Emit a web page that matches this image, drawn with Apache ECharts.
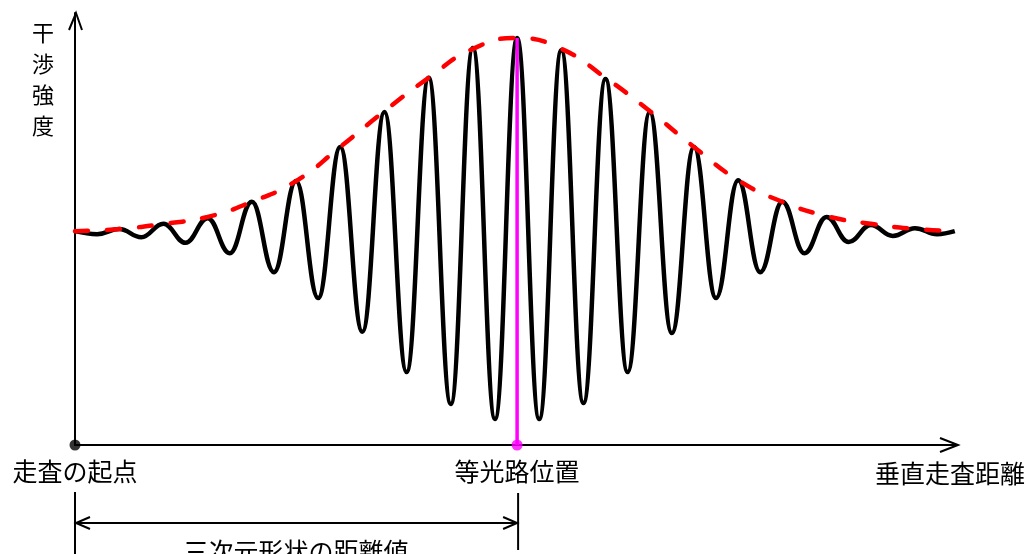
<!DOCTYPE html>
<html>
<head>
<meta charset="utf-8">
<script src="https://cdn.jsdelivr.net/npm/echarts@6/dist/echarts.min.js"></script>
<style>
html,body{margin:0;padding:0;background:#fff;}
#chart{width:1027px;height:554px;}
</style>
</head>
<body>
<div id="chart"></div>
<script>
// Scan positions (arbitrary units, one fringe period = 1) and read values
const fringeX = [0,0.5,1,1.5,2,2.5,3,3.5,4,4.5,5,5.5,6,6.5,7,7.5,8,8.5,9,9.5,10,
                 10.5,11,11.5,12,12.5,13,13.5,14,14.5,15,15.5,16,16.5,17,17.5,18,18.5,19,19.5,19.9];
const fringeY = [4.95,4.88,5.00,4.81,5.12,4.68,5.25,4.44,5.63,4.00,6.11,3.40,6.90,2.62,7.71,1.69,8.50,0.95,9.19,0.60,9.42,
                 0.60,9.14,0.97,8.47,1.69,7.71,2.59,6.90,3.40,6.13,4.00,5.63,4.44,5.28,4.70,5.09,4.84,5.02,4.88,4.95];
const envX = [0,1,2,3,4,5,6,7,8,9,10,11,12,13,14,15,16,17,18,19,19.9];
const envY = [4.95,5.00,5.12,5.28,5.63,6.11,6.90,7.73,8.50,9.17,9.42,9.17,8.50,7.73,6.90,6.13,5.63,5.30,5.12,5.00,4.95];
const startPos = 0;        // scan start
const equalPathPos = 10;   // equal optical path position
const equalPathPeak = 9.42;
const tickLabels = {0: '走査の起点', 10: '等光路位置'};
const yAxisTitle = '干渉強度';
const xAxisTitle = '垂直走査距離';
const distanceLabel = '三次元形状の距離値';

const FONT = '"Noto Sans CJK JP", "Noto Sans", sans-serif';
const chart = echarts.init(document.getElementById('chart'), null, {renderer: 'canvas'});

const zip = (a, b) => a.map((v, i) => [v, b[i]]);

chart.setOption({
  animation: false,
  backgroundColor: '#fff',
  grid: {left: 75, right: 70, top: 13, bottom: 109},
  xAxis: {
    type: 'value', min: 0, max: 19.95, interval: 10,
    splitLine: {show: false}, axisTick: {show: false},
    axisLine: {show: true, lineStyle: {color: '#000', width: 2}},
    axisLabel: {
      margin: 14, color: '#000', fontSize: 25, fontFamily: FONT,
      showMaxLabel: false,
      formatter: v => tickLabels[v] || ''
    }
  },
  yAxis: {
    type: 'value', min: 0, max: 10,
    splitLine: {show: false}, axisTick: {show: false}, axisLabel: {show: false},
    axisLine: {show: true, lineStyle: {color: '#000', width: 2}}
  },
  series: [
    {
      type: 'line', data: zip(fringeX, fringeY), showSymbol: false,
      smooth: 0.42, smoothMonotone: 'x', z: 2,
      lineStyle: {color: '#000', width: 4.5}
    },
    {
      type: 'line', data: [[equalPathPos, 0], [equalPathPos, equalPathPeak]], showSymbol: false, z: 3,
      lineStyle: {color: '#ff00ff', width: 3.5}
    },
    {
      type: 'line', data: zip(envX, envY), showSymbol: false, smooth: 0.5, z: 4,
      lineStyle: {color: '#ff0000', width: 4.5, type: [13, 19], cap: 'round'}
    },
    {
      type: 'scatter', data: [[startPos, 0]], symbolSize: 11, clip: false, z: 5,
      itemStyle: {color: '#000'}
    },
    {
      type: 'scatter', data: [[equalPathPos, 0]], symbolSize: 11, clip: false, z: 5,
      itemStyle: {color: '#ff00ff'}
    }
  ]
});

// Annotations placed from the axes' own scales
const x0 = chart.convertToPixel({xAxisIndex: 0}, startPos);
const x1 = chart.convertToPixel({xAxisIndex: 0}, equalPathPos);
const xEnd = chart.convertToPixel({xAxisIndex: 0}, 19.95);
const yBase = chart.convertToPixel({yAxisIndex: 0}, 0);
const yTop = chart.convertToPixel({yAxisIndex: 0}, 10);
const dimY = 523;
const ls = {stroke: '#000', lineWidth: 2, fill: null};

chart.setOption({
  graphic: [
    // axis arrowheads
    {type: 'polyline', shape: {points: [[xEnd - 17, yBase - 7], [xEnd + 1, yBase], [xEnd - 17, yBase + 7]]}, style: ls},
    {type: 'polyline', shape: {points: [[x0 - 6, yTop + 17], [x0 + 1, yTop], [x0 + 7, yTop + 17]]}, style: ls},
    // y axis title
    {type: 'text', x: 43, y: 17, style: {text: yAxisTitle.split('').join('\n'), fontSize: 22, lineHeight: 31,
      fontFamily: FONT, fill: '#000', align: 'center', verticalAlign: 'top'}},
    // x axis title
    {type: 'text', x: 1025, y: 473, style: {text: xAxisTitle, fontSize: 25, fontFamily: FONT, fill: '#000',
      align: 'right', verticalAlign: 'middle'}},
    // dimension lines
    {type: 'line', shape: {x1: x0, y1: 492, x2: x0, y2: 554}, style: ls},
    {type: 'line', shape: {x1: x1 + 1, y1: 493, x2: x1 + 1, y2: 550}, style: ls},
    {type: 'line', shape: {x1: x0, y1: dimY, x2: x1 + 1, y2: dimY}, style: ls},
    {type: 'polyline', shape: {points: [[x0 + 15, dimY - 6], [x0 + 1, dimY], [x0 + 15, dimY + 6]]}, style: ls},
    {type: 'polyline', shape: {points: [[x1 - 14, dimY - 6], [x1, dimY], [x1 - 14, dimY + 6]]}, style: ls},
    {type: 'text', x: (x0 + x1) / 2, y: 539, style: {text: distanceLabel, fontSize: 25, lineHeight: 25, fontFamily: FONT, fill: '#000',
      align: 'center', verticalAlign: 'top'}}
  ]
});
</script>
</body>
</html>
